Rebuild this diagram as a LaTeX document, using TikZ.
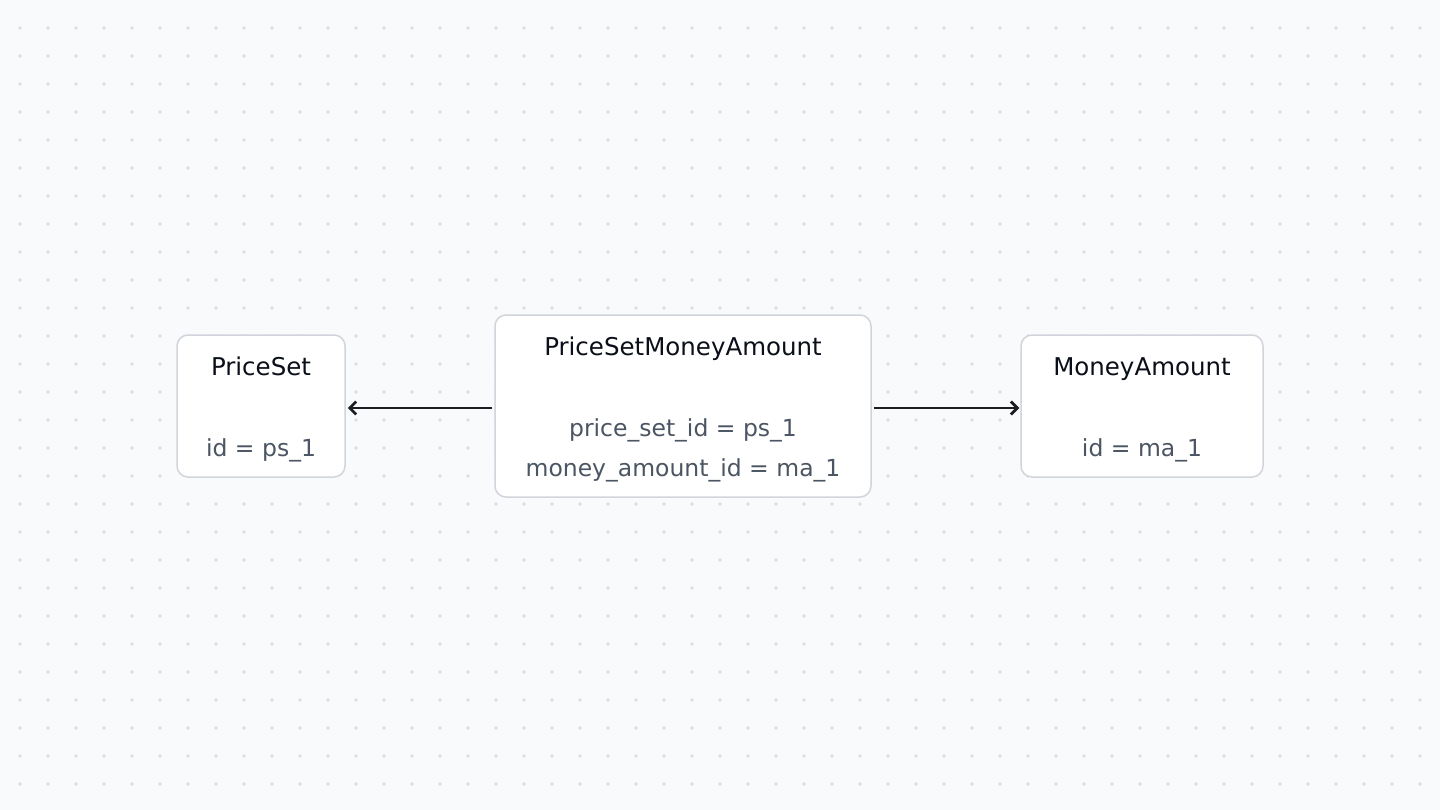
\documentclass[tikz,border=0pt]{standalone}
\usepackage{fontspec}
\setmainfont{DejaVu Sans}
\usetikzlibrary{arrows.meta}
\definecolor{bg}{HTML}{F9FAFB}
\definecolor{dotc}{HTML}{DADDE2}
\definecolor{boxborder}{HTML}{D1D5DB}
\definecolor{titlec}{HTML}{0B0F19}
\definecolor{bodyc}{HTML}{4B5563}
\definecolor{arrowc}{HTML}{1A1D22}
\tikzset{
  entity/.style={draw=boxborder, line width=1.5pt, fill=white, rounded corners=11pt, inner sep=0pt},
  title/.style={anchor=base, text=titlec, font=\fontsize{24.5}{28}\selectfont, inner sep=0pt},
  body/.style={anchor=base, text=bodyc, font=\fontsize{23.5}{28}\selectfont, inner sep=0pt},
  link/.style={draw=arrowc, line width=2.8pt, -{Straight Barb[length=6.5pt,width=13pt,line width=2.8pt]}}
}
\begin{document}
\begin{tikzpicture}[x=1pt,y=-1pt]
\fill[bg] (0,0) rectangle (1440,810);
\useasboundingbox (0,0) rectangle (1440,810);
\foreach \i in {0,...,50} {
  \foreach \j in {0,...,28} {
    \fill[dotc] (20+28*\i, 28+28*\j) circle (1.8);
  }
}
\node[entity, minimum width=168pt, minimum height=142pt] (ps) at (261,406) {};
\node[entity, minimum width=376pt, minimum height=182pt] (psma) at (683,406) {};
\node[entity, minimum width=242pt, minimum height=142pt] (ma) at (1142,406) {};

\node[title] (pst) at (261,375.5) {PriceSet};
\node[body] (psb) at (261,456) {id = ps\_1};

\node[title] (psmat) at (683,355) {PriceSetMoneyAmount};
\node[body] (psmab1) at (683,436) {price\_set\_id = ps\_1};
\node[body] (psmab2) at (683,476) {money\_amount\_id = ma\_1};

\node[title] (mat) at (1142,375.5) {MoneyAmount};
\node[body] (mab) at (1142,456) {id = ma\_1};

\draw[link] ([yshift=-2pt]psma.west) ++(-2,0) -- ([xshift=2pt,yshift=-2pt]ps.east);
\draw[link] ([xshift=2pt,yshift=-2pt]psma.east) -- ([xshift=-1pt,yshift=-2pt]ma.west);
\end{tikzpicture}
\end{document}
